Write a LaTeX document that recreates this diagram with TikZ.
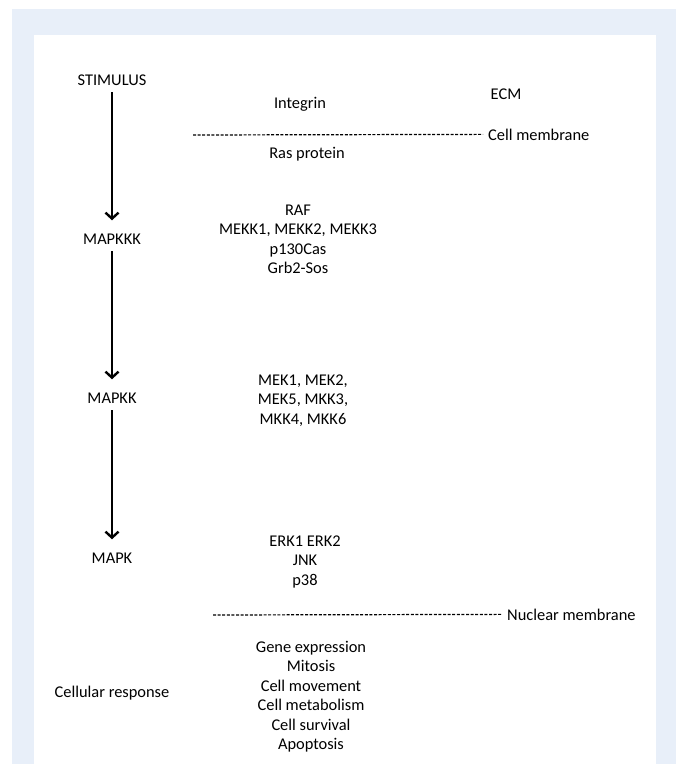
\documentclass[tikz,border=0pt]{standalone}
\usepackage{fontspec}
\setmainfont{Carlito}
\usetikzlibrary{arrows.meta}
\definecolor{bgblue}{RGB}{232,239,249}
\begin{document}
\begin{tikzpicture}  % ------ MAPK cascade -----------------------------
      [x=1pt,y=-1pt,
       every node/.style={inner sep=0pt,font=\fontsize{16.4}{19.5}\selectfont},
       cascade/.style={line width=1.6pt,-{Straight Barb[length=6pt,width=13pt,line width=2.4pt]},
                       shorten <=7pt,shorten >=13pt},
       membrane/.style={line width=1.2pt,dash pattern=on 3pt off 1.6pt,shorten >=5pt}]

    \useasboundingbox (0,0) rectangle (676,764);
    \fill [white]  (0,0) rectangle (676,764);
    \fill [bgblue] (12,9) rectangle (676,764);
    \fill [white]  (34,35) rectangle (656,764);

    % left column
    \node [anchor=base] (stim)   at (112,85)  {STIMULUS};
    \node [anchor=base] (mapkkk) at (112,244) {MAPKKK};
    \node [anchor=base] (mapkk)  at (112,403) {MAPKK};
    \node [anchor=base] (mapk)   at (112,563) {MAPK};
    \node [anchor=base] (resp)   at (112,697) {Cellular response};

    \draw [cascade] (stim)   -- (mapkkk);
    \draw [cascade] (mapkkk) -- (mapkk);
    \draw [cascade] (mapkk)  -- (mapk);

    % membranes
    \node [anchor=base]      (integrin) at (300,108) {Integrin};
    \node [anchor=base]      (ecm)      at (506,99)  {ECM};
    \coordinate (cm) at (193,135);
    \node [anchor=base west] (cmtext)   at (488,140) {Cell membrane};
    \draw [membrane] (cm) -- (cmtext.west);
    \node [anchor=base]      (ras)      at (307,158) {Ras protein};

    \coordinate (nm) at (213,615);
    \node [anchor=base west] (nmtext)   at (507,620) {Nuclear membrane};
    \draw [membrane] (nm) -- (nmtext.west);

    % members of each level
    \node [anchor=north,align=center] (raf) at (298,204.4)
          {RAF\\MEKK1, MEKK2, MEKK3\\p130Cas\\Grb2-Sos};
    \node [anchor=north,align=center] (mek) at (303,374.4)
          {MEK1, MEK2,\\MEK5, MKK3,\\MKK4, MKK6};
    \node [anchor=north,align=center] (erk) at (305,535.4)
          {ERK1 ERK2\\JNK\\p38};
    \node [anchor=north,align=center] (resps) at (311,641)
          {Gene expression\\Mitosis\\Cell movement\\Cell metabolism\\Cell survival\\Apoptosis};

\end{tikzpicture}
\end{document}
